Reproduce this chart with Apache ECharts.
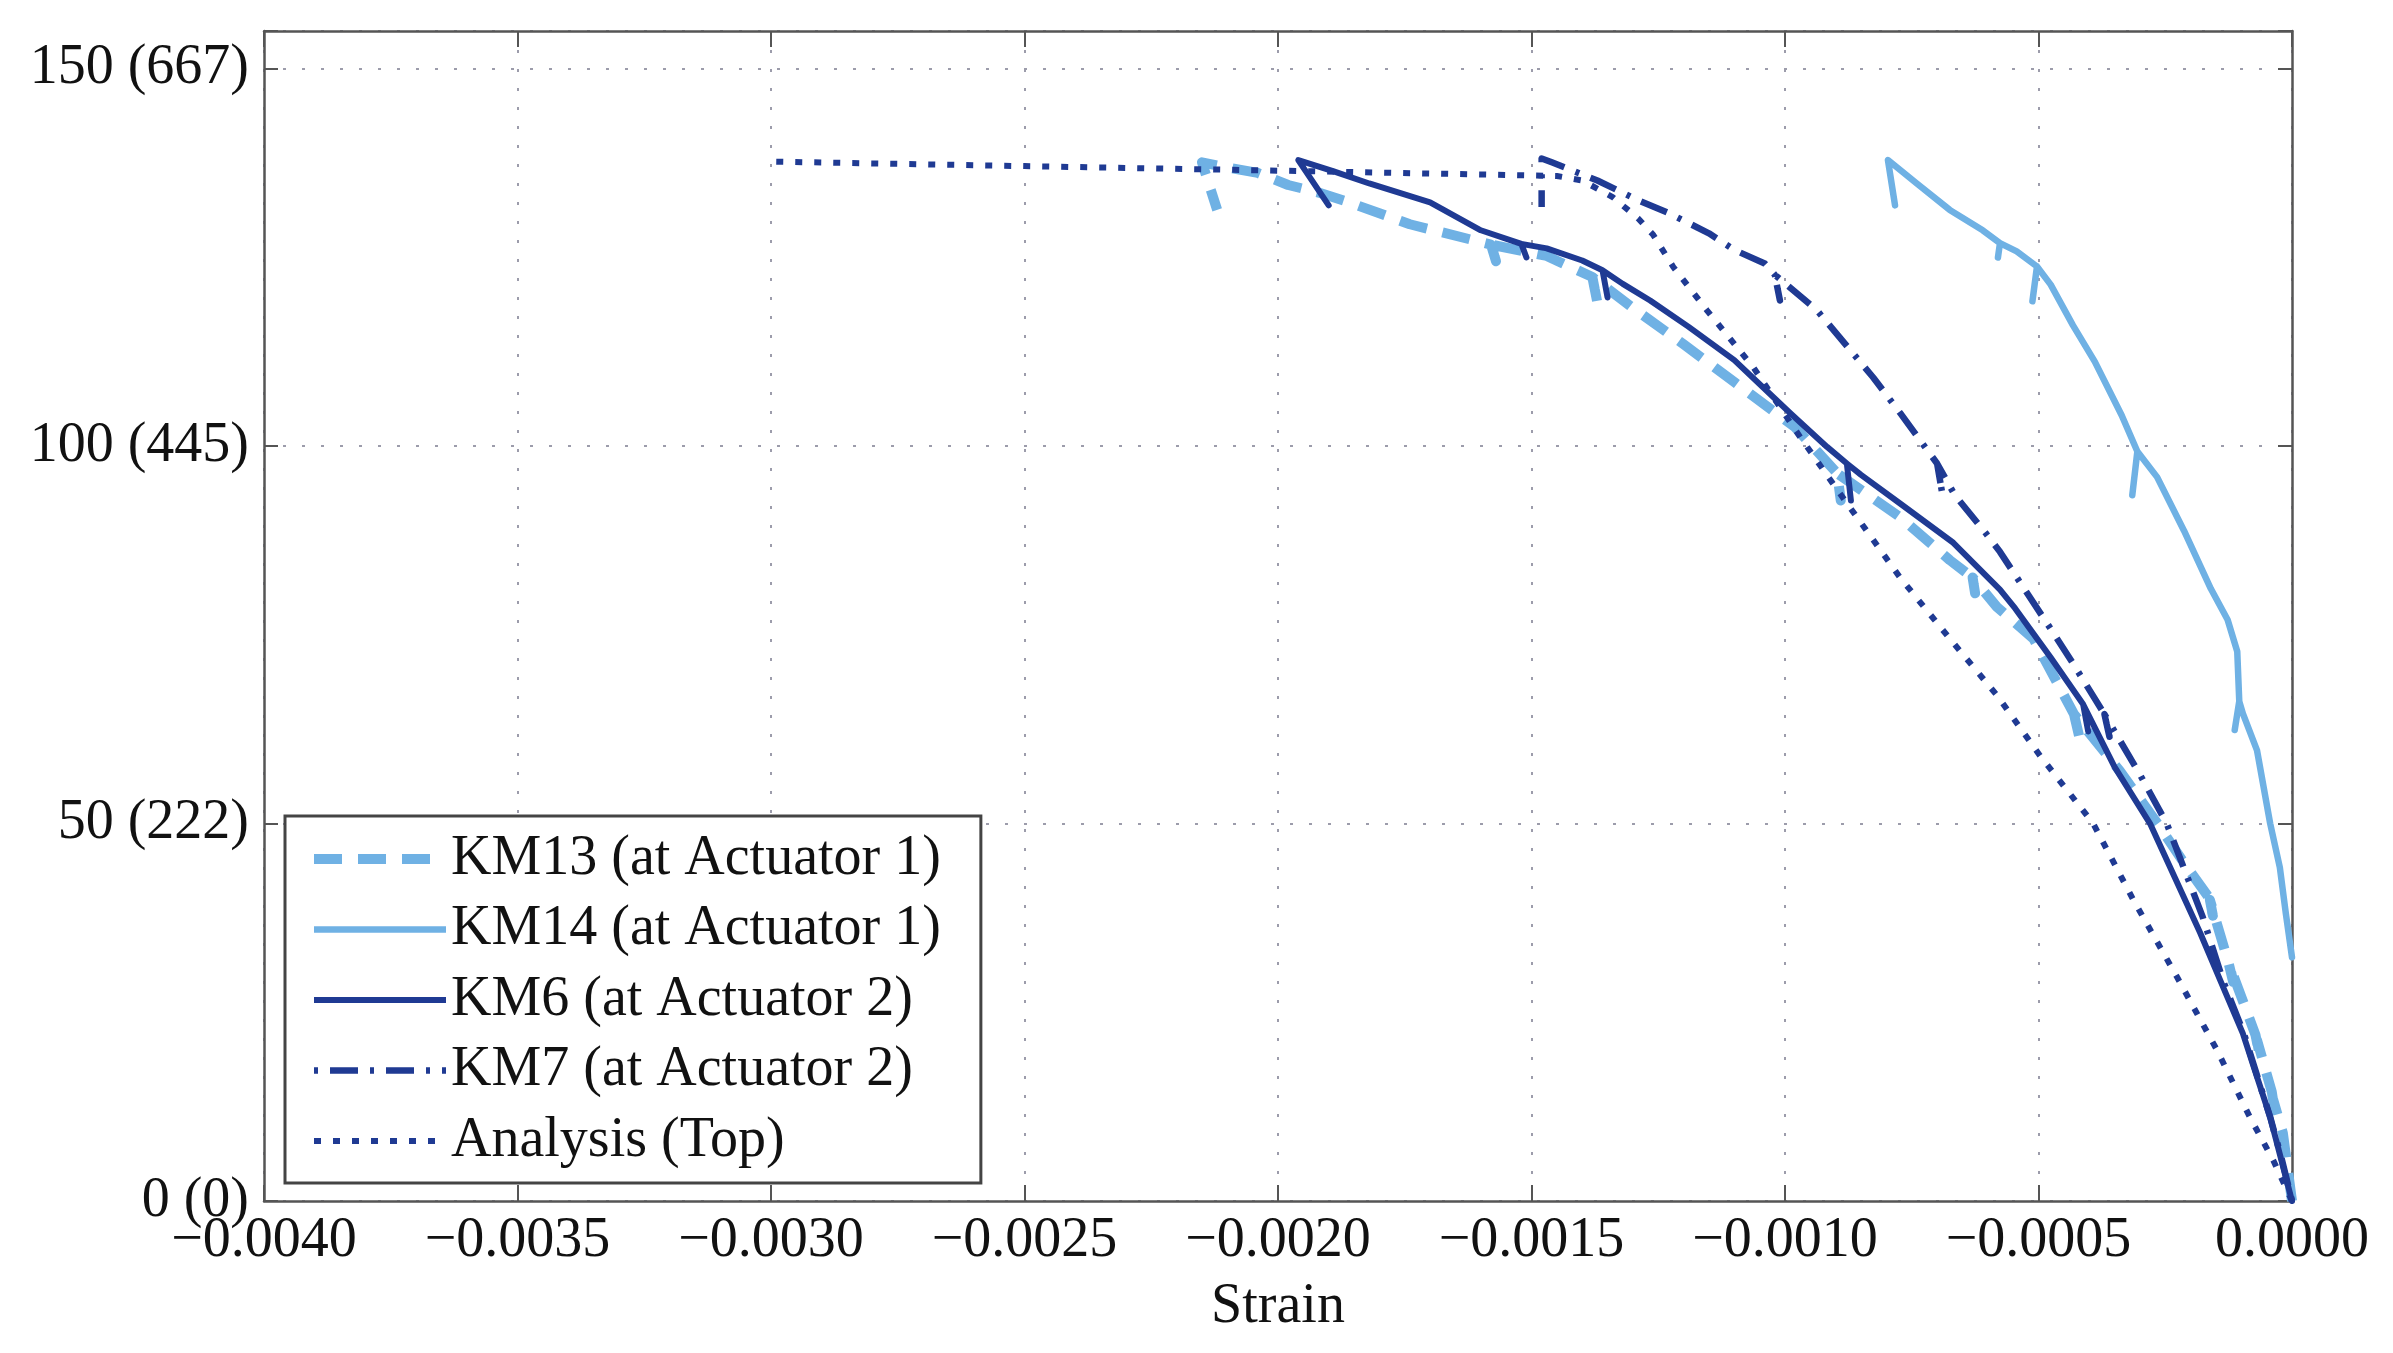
<!DOCTYPE html>
<html><head><meta charset="utf-8">
<script src="https://cdn.jsdelivr.net/npm/echarts/dist/echarts.min.js"></script>
<style>html,body{margin:0;padding:0;background:#fff}#c{width:2393px;height:1353px}</style>
</head><body><div id="c"></div><script>
// ---- data (strain, load in kips) ----
const seriesNames = ['KM13 (at Actuator 1)', 'KM14 (at Actuator 1)', 'KM6 (at Actuator 2)', 'KM7 (at Actuator 2)', 'Analysis (Top)'];

const km13Strain = [0, -0.000018, -0.000037, -0.000033, -0.00004, -0.000069, -0.000064, -0.000072, -0.000122, -0.000116, -0.000125, -0.000162, -0.000156, -0.000165, -0.00021, -0.00026, -0.00034, -0.00043, -0.00042, -0.00043, -0.00051, -0.000582, -0.00063, -0.000625, -0.00063, -0.000675, -0.000773, -0.000897, -0.00089, -0.000897, -0.00098, -0.0011, -0.0012, -0.0013, -0.00138, -0.00137, -0.00138, -0.00147, -0.00158, -0.00157, -0.00158, -0.00174, -0.00186, -0.00192, -0.00198, -0.00204, -0.00209, -0.00215, -0.00212];
const km13Load   = [0, 9, 13.4, 11.5, 14.5, 21.3, 19.3, 22, 31, 29, 31.5, 39.9, 37.8, 40.3, 44.5, 49.5, 57, 64.5, 61.6, 64.5, 74.5, 78.7, 82.6, 80.5, 82.6, 84.9, 90.6, 96.4, 92.8, 96.4, 102.5, 108.5, 113.5, 118.3, 122.4, 119, 122.4, 125.2, 126.7, 124.5, 126.7, 129.4, 132.3, 133.6, 134.6, 136.2, 136.8, 137.6, 131.3];

const km14Strain = [0, -0.000012, -0.000024, -0.000043, -0.000069, -0.000097, -0.000104, -0.000113, -0.000104, -0.000108, -0.000127, -0.00016, -0.000213, -0.000266, -0.000305, -0.000315, -0.000305, -0.000336, -0.000389, -0.000432, -0.000476, -0.000503, -0.000512, -0.000503, -0.000543, -0.000576, -0.00058, -0.000576, -0.00061, -0.000675, -0.00074, -0.000797, -0.000783];
const km14Load   = [32.3, 38, 44.2, 50, 59.7, 64.6, 66.2, 62.4, 66.2, 72.8, 77, 81.1, 88.8, 95.9, 99.3, 93.5, 99.3, 104.1, 111.2, 116, 121.4, 123.8, 119.2, 123.8, 125.8, 126.9, 125.0, 126.9, 128.6, 131.3, 134.8, 137.9, 131.9];

const km6Strain = [0, -0.000043, -0.000097, -0.00014, -0.000181, -0.00023, -0.00028, -0.00035, -0.000412, -0.000402, -0.000412, -0.000476, -0.000546, -0.000576, -0.000668, -0.000773, -0.00085, -0.000878, -0.00087, -0.000878, -0.000917, -0.00099, -0.0011, -0.00119, -0.001266, -0.00132, -0.00136, -0.00135, -0.00136, -0.0014, -0.00147, -0.00152, -0.00151, -0.00152, -0.0016, -0.0017, -0.00182, -0.00189, -0.00196, -0.0019];
const km6Load   = [0, 11.1, 22.2, 29, 35.5, 42.7, 50, 57.5, 65.8, 62.2, 65.8, 72, 78.5, 81, 87.2, 92.4, 96.2, 97.7, 92.8, 97.7, 99.9, 104.4, 111.4, 115.8, 119.3, 121.5, 123.3, 119.7, 123.3, 124.6, 126.2, 126.8, 125, 126.8, 128.6, 132.3, 134.8, 136.4, 137.9, 131.9];

const km7Strain = [0, -0.00002, -0.000043, -0.000095, -0.000135, -0.000176, -0.000247, -0.0003, -0.00037, -0.00036, -0.00037, -0.00043, -0.000478, -0.000576, -0.000609, -0.000665, -0.0007, -0.00069, -0.0007, -0.000773, -0.000826, -0.000937, -0.00102, -0.00101, -0.00102, -0.00104, -0.0011, -0.00115, -0.00123, -0.00129, -0.00137, -0.00146, -0.00148, -0.00148];
const km7Load   = [0, 5.5, 11.1, 22.2, 29, 37.6, 50, 56.5, 64.5, 61.5, 64.5, 71, 76, 86, 88.9, 93.5, 97.7, 93.8, 97.7, 104.4, 109.1, 118, 122.7, 119.3, 122.7, 124.2, 126, 128.2, 130.9, 132.6, 135.2, 137.6, 138.1, 131.7];

const anaStrain = [0, -0.000037, -0.000083, -0.000148, -0.000227, -0.000313, -0.000392, -0.000497, -0.000582, -0.000675, -0.000773, -0.000886, -0.00097, -0.001063, -0.001154, -0.00122, -0.00126, -0.00129, -0.00134, -0.0014, -0.00145, -0.0020, -0.0025, -0.0030];
const anaLoad   = [0, 5.4, 11.1, 20, 29.7, 39.9, 50, 59, 67, 74.5, 82.6, 93.2, 101.2, 110.5, 118, 123.7, 128, 130.2, 133, 135.2, 135.8, 136.5, 137.1, 137.7];

const yTickValues = [0, 50, 100, 150];
const yTickLabels = ['0 (0)', '50 (222)', '100 (445)', '150 (667)'];
const xAxisName = 'Strain';

// ---- chart ----
const FONT = '"Liberation Serif", "Times New Roman", serif';
const NAVY = '#1f3a93', LIGHT = '#6fb1e4', AXIS = '#555555', TXT = '#111111';
const pairs = (xs, ys) => xs.map((x, i) => [x, ys[i]]);
const fmtX = v => Math.abs(v) < 1e-12 ? '0.0000' : (v < 0 ? '\u2212' : '') + Math.abs(v).toFixed(4);
const fmtY = v => { const i = yTickValues.findIndex(t => Math.abs(t - v) < 1e-9); return i >= 0 ? yTickLabels[i] : ''; };

const axisLineStyle = { color: AXIS, width: 2.5 };
const xBase = { type: 'value', min: -0.004, max: 0, interval: 0.0005 };
const yBase = { type: 'value', min: 0, max: 155, interval: 50 };

const styles = [
  { color: LIGHT, width: 10, type: [28, 16], cap: 'butt' },
  { color: LIGHT, width: 6.5, type: 'solid' },
  { color: NAVY, width: 6, type: 'solid' },
  { color: NAVY, width: 6.5, type: [4, 12, 28, 12], cap: 'butt' },
  { color: NAVY, width: 6, type: [7, 12], cap: 'butt' }
];
const datasets = [
  pairs(km13Strain, km13Load), pairs(km14Strain, km14Load), pairs(km6Strain, km6Load),
  pairs(km7Strain, km7Load), pairs(anaStrain, anaLoad)
];

const chart = echarts.init(document.getElementById('c'), null, { renderer: 'canvas' });
chart.setOption({
  animation: false,
  backgroundColor: '#ffffff',
  grid: { left: 264, right: 101, top: 31, bottom: 152, containLabel: false, outerBoundsMode: 'none' },
  xAxis: [
    Object.assign({}, xBase, {
      position: 'bottom', name: xAxisName, nameLocation: 'middle', nameGap: 78,
      nameTextStyle: { fontFamily: FONT, fontSize: 56, color: TXT },
      axisLine: { show: true, onZero: false, lineStyle: axisLineStyle },
      axisTick: { show: true, inside: true, length: 16, lineStyle: { color: AXIS, width: 2 } },
      axisLabel: { margin: 12, fontFamily: FONT, fontSize: 56, color: TXT, formatter: fmtX, hideOverlap: false },
      splitLine: { show: true, lineStyle: { color: '#9c9cab', width: 2, type: [3, 16] } }
    }),
    Object.assign({}, xBase, {
      position: 'top',
      axisLine: { show: true, onZero: false, lineStyle: axisLineStyle },
      axisTick: { show: true, inside: true, length: 16, lineStyle: { color: AXIS, width: 2 } },
      axisLabel: { show: false }, splitLine: { show: false }
    })
  ],
  yAxis: [
    Object.assign({}, yBase, {
      position: 'left',
      axisLine: { show: true, onZero: false, lineStyle: axisLineStyle },
      axisTick: { show: true, inside: true, length: 14, lineStyle: { color: AXIS, width: 2 } },
      axisLabel: { margin: 15, fontFamily: FONT, fontSize: 56, color: TXT, formatter: fmtY, hideOverlap: false },
      splitLine: { show: true, lineStyle: { color: '#9c9cab', width: 2, type: [3, 16] } }
    }),
    Object.assign({}, yBase, {
      position: 'right',
      axisLine: { show: true, onZero: false, lineStyle: axisLineStyle },
      axisTick: { show: true, inside: true, length: 14, lineStyle: { color: AXIS, width: 2 } },
      axisLabel: { show: false }, splitLine: { show: false }
    })
  ],
  legend: {
    orient: 'vertical', left: 285, top: 816,
    padding: [13, 40, 12, 24],
    itemWidth: 132, itemHeight: 14, itemGap: 10.5,
    backgroundColor: '#ffffff', borderColor: '#444444', borderWidth: 3, borderRadius: 0,
    textStyle: { fontFamily: FONT, fontSize: 56, lineHeight: 60, color: TXT },
    itemStyle: { opacity: 0, borderWidth: 0 },
    data: seriesNames.map((n, i) => ({
      name: n,
      itemStyle: { opacity: 0, borderWidth: 0 },
      lineStyle: { width: styles[i].width, color: styles[i].color, type: styles[i].type, cap: styles[i].cap || 'butt' }
    }))
  },
  series: seriesNames.map((n, i) => ({
    name: n, type: 'line', xAxisIndex: 0, yAxisIndex: 0,
    data: datasets[i], showSymbol: false, symbol: 'none', smooth: false,
    lineStyle: { color: styles[i].color, width: styles[i].width, type: styles[i].type, cap: styles[i].cap || 'round', join: 'round' },
    itemStyle: { color: styles[i].color },
    emphasis: { disabled: true }, z: 2 + i
  }))
});
</script></body></html>
